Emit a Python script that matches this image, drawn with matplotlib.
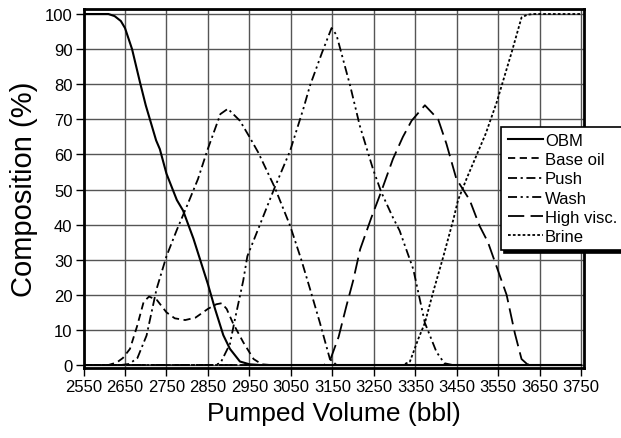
import matplotlib
matplotlib.use("Agg")
import matplotlib.pyplot as plt

plt.rcParams['font.family'] = ['Liberation Sans', 'DejaVu Sans']

# values (pumped volume in bbl, composition in %)
obm_x = [2550, 2610, 2625, 2640, 2650, 2667, 2686, 2700, 2710, 2725, 2734, 2750, 2775, 2790, 2815,
         2850, 2867, 2887, 2903, 2927, 2950, 2975, 3750]
obm_y = [100, 100, 99.4, 98, 96, 90, 80.6, 74, 70, 64, 61.5, 54.5, 47, 44, 36,
         23, 16, 8.5, 4.6, 1, 0.2, 0, 0]

base_x = [2550, 2610, 2630, 2645, 2662, 2679, 2695, 2708, 2727, 2750, 2770, 2795, 2820, 2850,
          2870, 2883, 2895, 2910, 2935, 2960, 2980, 3000, 3750]
base_y = [0, 0, 0.7, 2, 4.6, 11, 18, 19.5, 18.5, 15, 13.3, 12.8, 13.5, 16,
          17.3, 17.6, 16, 12, 6.5, 1.7, 0.2, 0, 0]

push_x = [2550, 2640, 2660, 2680, 2702, 2726, 2750, 2775, 2800, 2826, 2848, 2880, 2898, 2927,
          2950, 2971, 3011, 3048, 3075, 3096, 3120, 3144, 3160, 3750]
push_y = [0, 0, 0.3, 2, 8.4, 21.6, 31, 38.5, 45.5, 53, 61, 71.5, 73, 69.6,
          65, 60.6, 50.6, 39.7, 30, 21.7, 12, 1.7, 0, 0]

wash_x = [2550, 2865, 2880, 2903, 2915, 2935, 2945, 2971, 3011, 3048, 3080, 3096, 3125, 3148,
          3160, 3193, 3216, 3248, 3268, 3296, 3312, 3345, 3373, 3401, 3420, 3440, 3750]
wash_y = [0, 0, 0.5, 6, 13, 24, 31, 38.7, 50.6, 61, 73, 79.6, 89, 96,
          94, 79.5, 68.2, 55.8, 49.2, 42, 38.3, 27.3, 12, 3.7, 0.5, 0, 0]

visc_x = [2550, 3130, 3144, 3165, 3184, 3200, 3217, 3244, 3268, 3296, 3320, 3341, 3373, 3405,
          3425, 3449, 3481, 3505, 3525, 3546, 3570, 3590, 3606, 3620, 3635, 3750]
visc_y = [0, 0, 1.2, 8, 16.9, 24, 33, 42, 49.5, 58.7, 65, 69.6, 74, 70,
          63, 53, 47, 39.6, 35, 28, 20, 9, 1.7, 0.2, 0, 0]

brine_x = [2550, 3320, 3337, 3357, 3373, 3393, 3417, 3442, 3453, 3475, 3497, 3520, 3546, 3582,
           3606, 3620, 3635, 3750]
brine_y = [0, 0, 1, 7.4, 12, 20.8, 30.7, 41.6, 47, 53.5, 59.6, 66, 74.8, 89,
           99, 99.8, 100, 100]

x_ticks = list(range(2550, 3751, 100))
y_ticks = list(range(0, 101, 10))

fig = plt.figure(figsize=(6.21, 4.39), dpi=100)
ax = fig.add_axes([0.1345, 0.1595, 0.8055, 0.8175])

lw = 1.3
ax.plot(obm_x, obm_y, color='black', lw=1.5, ls='-', label='OBM')
ax.plot(base_x, base_y, color='black', lw=lw, ls=(0, (4, 2.5)), label='Base oil')
ax.plot(push_x, push_y, color='black', lw=lw, ls=(0, (5, 2, 1.2, 2)), label='Push')
ax.plot(wash_x, wash_y, color='black', lw=lw, ls=(0, (5, 2, 1.2, 2, 1.2, 2)), label='Wash')
ax.plot(visc_x, visc_y, color='black', lw=lw, ls=(0, (9, 3.5)), label='High visc.')
ax.plot(brine_x, brine_y, color='black', lw=lw, ls=(0, (1.5, 1.2)), label='Brine')

ax.set_xlim(2550, 3756)
ax.set_ylim(-0.85, 101.4)
ax.set_xticks(x_ticks)
ax.set_yticks(y_ticks)
ax.grid(True, color='#555555', lw=1.0)
ax.set_axisbelow(True)
ax.tick_params(axis='both', direction='out', length=6, width=1, labelsize=12, pad=2)

for s in ax.spines.values():
    s.set_linewidth(2)

ax.set_xlabel('Pumped Volume (bbl)', fontsize=19, labelpad=5)
ax.set_ylabel('Composition (%)', fontsize=21, labelpad=5)

leg = ax.legend(loc='upper left', bbox_to_anchor=(0.835, 0.672), fontsize=12,
                handlelength=2.1, handletextpad=0.15, labelspacing=0.25,
                borderpad=0.38, borderaxespad=0, fancybox=False, framealpha=1,
                shadow={'color': 'black', 'alpha': 1})
leg.get_frame().set_edgecolor('black')
leg.get_frame().set_linewidth(1.2)

fig.savefig('out.png', dpi=100)
